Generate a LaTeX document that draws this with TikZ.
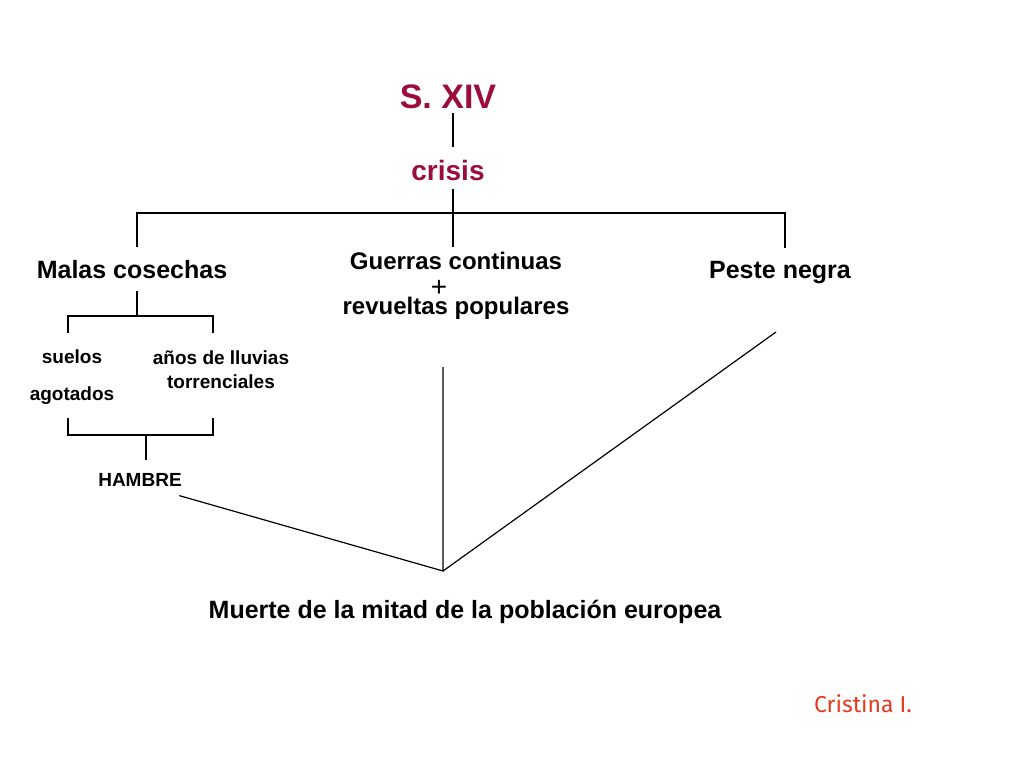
\documentclass[tikz,border=0pt]{standalone}
\usepackage{fontspec}
\setmainfont{Liberation Sans}
\newfontfamily\firma{Fira Sans}
\usepackage{xcolor}
\usetikzlibrary{positioning}
\definecolor{granate}{HTML}{9A0D3E}
\definecolor{firmarojo}{HTML}{E5391E}
\newcommand\apretado{\lineskiplimit=-20pt\relax}

\begin{document}
\begin{tikzpicture}[y=-1pt,x=1pt, line width=1.2pt,
	titulo/.style={text=granate, inner sep=0pt},
	causa/.style={font=\fontsize{25}{26}\selectfont\bfseries, inner sep=0pt},
	sub/.style={font=\fontsize{19}{24}\selectfont\bfseries, align=center, inner sep=0pt}]
	\useasboundingbox (0,0) rectangle (1024,768);

	% titulo
	\node[titulo, font=\fontsize{34}{34}\selectfont\bfseries, anchor=base] (sxiv) at (448,108) {S. XIV};
	\node[titulo, font=\fontsize{28}{30}\selectfont\bfseries, anchor=base] (crisis) at (448,180) {crisis};

	% causas
	\node[causa, anchor=base] (malas) at (132,278) {Malas cosechas};
	\node[causa, font={\fontsize{24}{22.5}\selectfont\bfseries\apretado}, align=center] (guerras) at (456,286)
		{Guerras continuas\\\raisebox{-4pt}{\fontsize{28}{22.5}\selectfont\mdseries +}\kern34pt\mbox{}\\revueltas populares};
	\node[causa, anchor=base] (peste) at (780,278) {Peste negra};

	\node[sub, font=\fontsize{19}{37}\selectfont\bfseries] (suelos) at (72,377) {suelos\\agotados};
	\node[sub] (lluvias) at (221,370) {años de lluvias\\torrenciales};
	\node[sub, anchor=base] (hambre) at (140,486) {HAMBRE};

	\node[causa, anchor=base] (muerte) at (465,618) {Muerte de la mitad de la población europea};
	\node[anchor=base, inner sep=0pt, text=firmarojo, font=\fontsize{23}{24}\selectfont\firma] (autora) at (863,712) {Cristina I.};

	% puntos de union
	\coordinate (barra) at (453,213);
	\coordinate (m1) at (68,333);
	\coordinate (m2) at (213,333);
	\coordinate (h1) at (68,418);
	\coordinate (h2) at (213,418);
	\coordinate (meta) at (443,571);
	\coordinate (gfin) at (443,367);
	\coordinate (pfin) at (776,332);

	% arbol
	\draw[shorten <=4pt, shorten >=12pt] (sxiv.south -| barra) -- (crisis.north -| barra);
	\draw[shorten <=8pt] (crisis.south -| barra) -- (barra) -- ++(0,34);
	\draw ([yshift=12pt]malas.north -| 137,0) |- (barra) -| ([yshift=12pt]peste.north -| 785,0);
	\draw ([yshift=-12pt]malas.south -| 137,0) -- (137,316);
	\draw (m1) |- (m2 |- 0,316) -- (m2);
	\draw (h1) |- (h2 |- 0,435) -- (h2);
	\draw (146,435) -- ([yshift=12pt]hambre.north -| 146,0);

	% convergencia
	\draw ([shift={(-3,9)}]hambre.south east) -- (meta) -- (gfin);
	\draw (meta) -- (pfin);
\end{tikzpicture}
\end{document}
